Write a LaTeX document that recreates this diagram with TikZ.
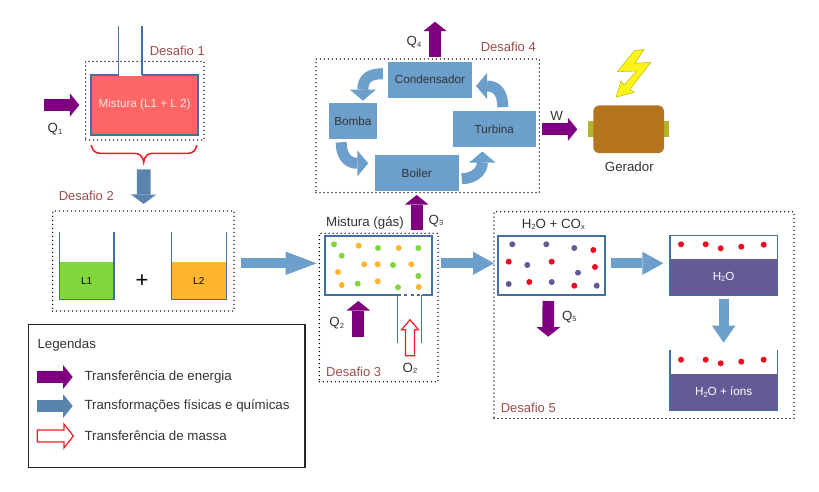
\documentclass[tikz,border=0pt]{standalone}
\usepackage{fontspec}
\setmainfont{Liberation Sans}
\usetikzlibrary{arrows.meta,shapes.arrows}

\definecolor{roxo}{HTML}{7F007F}
\definecolor{azulseta}{HTML}{5A84AE}
\definecolor{azulclaro}{HTML}{6C9FCC}
\definecolor{azulborda}{HTML}{41709F}
\definecolor{verdeliq}{HTML}{80D63B}
\definecolor{laranjaliq}{HTML}{FFB62E}
\definecolor{vermelhomix}{HTML}{FF6666}
\definecolor{vermelhoion}{HTML}{EE0A24}
\definecolor{vermelhoseta}{HTML}{F01C24}
\definecolor{roxoagua}{HTML}{665A96}
\definecolor{desafio}{HTML}{A04C4C}
\definecolor{textocinza}{HTML}{333333}
\definecolor{marrom}{HTML}{B5751F}
\definecolor{oliva}{HTML}{B5B32A}

\newcommand{\idx}[1]{\raisebox{-.25ex}{\fontsize{7.5}{7.5}\selectfont #1}}

\tikzset{
  rotulo/.style={font=\fontsize{13.3}{15}\selectfont, text=textocinza, inner sep=0pt},
  titulo/.style={font=\fontsize{13}{15}\selectfont, text=desafio, inner sep=0pt},
  dotbox/.style={draw=black, line width=1.5pt, line cap=round, dash pattern=on 0pt off 4pt, outer sep=0pt, inner sep=0pt},
  bloco/.style={fill=azulclaro, outer sep=0pt, inner sep=0pt, text=black!80, font=\fontsize{11.7}{13}\selectfont},
  caixa/.style={draw=azulborda, line width=1.8pt, fill=white, outer sep=0pt, inner sep=0pt},
  liquido/.style={outer sep=0pt, inner sep=0pt, font=\fontsize{10}{12}\selectfont},
  parede/.style={draw=azulborda, line width=1.4pt},
  energia/.style={draw=roxo, line width=11.7pt, -{Triangle[length=9.5pt,width=23.5pt,line width=0pt]}},
  fisica/.style={draw=azulseta, line width=11.7pt, -{Triangle[length=9.5pt,width=23.5pt,line width=0pt]}},
  fluxo/.style={draw=azulclaro, line width=10pt, -{Triangle[length=#1,width=23.3pt,line width=0pt]}},
  giro/.style={draw=azulclaro, line width=11pt, -{Triangle[length=11pt,width=26pt,line width=0pt]}},
  massa/.style={single arrow, anchor=tail, draw=vermelhoseta, line width=1.2pt, fill=white, inner sep=3.9pt,
    minimum height=36pt, single arrow head extend=4pt, single arrow tip angle=80, outer sep=0pt},
  massaleg/.style={massa, inner sep=5.4pt, single arrow head extend=6pt, single arrow tip angle=104},
}

\begin{document}
\begin{tikzpicture}[x=1pt,y=-1pt]
  \useasboundingbox (0,0) rectangle (819,492);

  % Desafio 1
  \node[dotbox, minimum width=118.3pt, minimum height=78.7pt] (desafioa) at (144.85,100.65) {};
  \node[caixa, draw=azulborda, fill=vermelhomix, minimum width=106.7pt, minimum height=59.7pt,
        text=white!90!red, font=\fontsize{11.7}{13}\selectfont] (flask) at (144.65,104.85) {Mistura (L1 + L 2)};
  \draw[white, line width=2pt] ([xshift=-26pt]flask.north) -- ([xshift=-2.6pt]flask.north);
  \draw[parede] ([xshift=-26pt,yshift=49pt]flask.north) -- ([xshift=-26pt]flask.north);
  \draw[parede] ([xshift=-2.6pt,yshift=49pt]flask.north) -- ([xshift=-2.6pt]flask.north);
  \node[titulo] (tituloa) at (177.3,50.7) {Desafio 1};
  \coordinate (qa) at (44,105);
  \draw[energia] (qa) -- ([xshift=-6.4pt,yshift=-4.35pt]desafioa.west);
  \node[rotulo] (qatxt) at (55,129.3) {Q\idx{1}};
  \coordinate (chave) at (143.7,162.3);
  \draw[vermelhoseta, line width=1.5pt] (91.3,145) .. controls (92,150) and (95,153.3) .. (100,153.3)
    -- (133.3,153.3) .. controls (139,153.3) and (142.5,155) .. (chave)
    .. controls (145,155) and (148,153.3) .. (153.3,153.3)
    -- (188.3,153.3) .. controls (193,153.3) and (196,150) .. (196.7,145);

  % Desafio 2
  \node[dotbox, minimum width=181.3pt, minimum height=100pt] (desafiob) at (143.35,261) {};
  \node[titulo] (titulob) at (86.3,196.3) {Desafio 2};
  \draw[fisica, line width=13.7pt, -{Triangle[length=9.5pt,width=25.3pt,line width=0pt]}]
    ([yshift=-7pt]chave) -- ([yshift=7pt,xshift=.3pt]desafiob.north);
  \node[liquido, fill=verdeliq, minimum width=54.7pt, minimum height=37.3pt] (liqa) at (86.65,280.65) {L1};
  \node[liquido, fill=laranjaliq, minimum width=55pt, minimum height=37.3pt] (liqb) at (198.8,280.65) {L2};
  \draw[parede] ([yshift=30.3pt]liqa.north west) -- (liqa.south west) -- (liqa.south east) -- ([yshift=30.3pt]liqa.north east);
  \draw[parede] ([yshift=30.3pt]liqb.north west) -- (liqb.south west) -- (liqb.south east) -- ([yshift=30.3pt]liqb.north east);
  \node[font=\fontsize{22}{22}\selectfont, inner sep=0pt] (mais) at (142,281) {+};

  % Desafio 3
  \node[dotbox, minimum width=118.7pt, minimum height=148.4pt] (desafioc) at (378.65,307.5) {};
  \node[caixa, minimum width=107pt, minimum height=59.6pt] (gasbox) at (378.8,265.5) {};
  \foreach \dotx/\doty in {334/244.3,341.7/255.7,378/248,418.3/248,393/265,418.3/276,357.7/283.7,398/287.3}
    \fill[verdeliq] (\dotx,\doty) circle (3);
  \foreach \dotx/\doty in {358.7/245.7,398.7/248,364.3/264.3,377.7/264.3,411.3/264.3,338/272,377.7/281.3,341.7/285,418.7/287}
    \fill[laranjaliq] (\dotx,\doty) circle (3);
  \draw[white, line width=2pt] ([xshift=19pt]gasbox.south) -- ([xshift=43pt]gasbox.south);
  \draw[azulborda, line width=1.8pt, dash pattern=on 3pt off 3.4pt] ([xshift=19pt]gasbox.south) -- ([xshift=43pt]gasbox.south);
  \draw[parede, line width=1.1pt] ([xshift=19pt]gasbox.south) -- ([xshift=19pt,yshift=-48pt]gasbox.south);
  \draw[parede, line width=1.1pt] ([xshift=43pt]gasbox.south) -- ([xshift=43pt,yshift=-48pt]gasbox.south);
  \node[rotulo] (gastxt) at (365,223.3) {Mistura (gás)};
  \coordinate (qb) at (358.3,337.3);
  \draw[energia] (qb) -- ([xshift=-20.5pt,yshift=-5.7pt]gasbox.south);
  \node[rotulo] (qbtxt) at (336.7,323.3) {Q\idx{2}};
  \node[massa, shape border rotate=90] (oseta) at (410,355.7) {};
  \node[rotulo] (otxt) at (410,368.3) {O\idx{2}};
  \node[titulo] (tituloc) at (353.7,372.3) {Desafio 3};

  % Desafio 4
  \node[dotbox, minimum width=223.3pt, minimum height=133.7pt] (desafiod) at (427.65,125.85) {};
  \node[bloco, minimum width=83.4pt, minimum height=36pt] (condensador) at (430,79.7) {Condensador};
  \node[bloco, minimum width=48.3pt, minimum height=35.7pt] (bomba) at (352.85,120.85) {Bomba};
  \node[bloco, minimum width=83.3pt, minimum height=35.6pt] (turbina) at (494.35,129.3) {Turbina};
  \node[bloco, minimum width=84pt, minimum height=35.4pt] (boiler) at (416.7,173) {Boiler};
  \draw[giro] ([xshift=-5.3pt,yshift=6pt]condensador.west) .. controls (370,73.7) and (362.85,78) .. ([xshift=10pt,yshift=13.3pt]bomba.north) -- ([xshift=10pt,yshift=2.3pt]bomba.north);
  \draw[giro] ([xshift=8.45pt,yshift=4.4pt]turbina.north) .. controls (502.8,93) and (497,86) .. ([xshift=15.3pt,yshift=-6.3pt]condensador.east) -- ([xshift=4.3pt,yshift=-6.3pt]condensador.east);
  \draw[giro] ([xshift=-11.65pt,yshift=-3.6pt]bomba.south) .. controls (341.2,155) and (347,163.3) .. ([xshift=-17.4pt,yshift=9.7pt]boiler.west) -- ([xshift=-6.4pt,yshift=9.7pt]boiler.west);
  \draw[giro] ([xshift=3pt,yshift=-5.7pt]boiler.east) .. controls (473,178.7) and (482.35,172) .. ([xshift=-12pt,yshift=-15.4pt]turbina.south) -- ([xshift=-12pt,yshift=-4.4pt]turbina.south);
  \node[titulo] (titulod) at (508.3,47.3) {Desafio 4};
  \coordinate (qd) at (435,21.7);
  \draw[energia] ([xshift=5pt,yshift=4.4pt]condensador.north) -- (qd);
  \node[rotulo] (qdtxt) at (414,42.3) {Q\idx{4}};
  \draw[energia] ([xshift=37.9pt,yshift=5.7pt]gasbox.north) -- ([yshift=-4.3pt]boiler.south);
  \node[rotulo] (qctxt) at (436,220.7) {Q\idx{3}};

  % Gerador
  \fill[oliva] (588.3,121.5) rectangle (669,137.5);
  \node[fill=marrom, rounded corners=6pt, minimum width=70.7pt, minimum height=47.7pt, outer sep=0pt, inner sep=0pt] (gerador) at (628.65,129.3) {};
  \node[rotulo] (geradortxt) at (629.3,166.7) {Gerador};
  \draw[energia] ([xshift=5.7pt]turbina.east) -- ([xshift=-16pt]gerador.west);
  \node[rotulo] (wtxt) at (556.7,115.7) {W};
  \draw[oliva!80!yellow, line width=.6pt, fill=yellow!90!white] (634.3,50.7) -- (644,49.3) -- (635,63.3) -- (651,62.3)
    -- (630,89.3) -- (634.3,92.3) -- (616,97.3) -- (621,80.7) -- (624,85) -- (636.7,71) -- (617.3,71.7) -- cycle;

  % Desafio 5
  \node[dotbox, minimum width=300pt, minimum height=206.6pt] (desafioe) at (644,315) {};
  \node[caixa, minimum width=106.7pt, minimum height=59.6pt] (coxbox) at (551.35,265.5) {};
  \foreach \dotx/\doty in {512.3/244.3,546.3/244.3,574.3/248,527.3/265,578/272.7,508.7/284,551.7/282,596.7/285.7}
    \fill[roxoagua] (\dotx,\doty) circle (3);
  \foreach \dotx/\doty in {593.3/250,508.7/261.7,551.7/261.7,595/267,529.3/282,574.3/285.7}
    \fill[vermelhoion] (\dotx,\doty) circle (3);
  \node[rotulo] (coxtxt) at (553.3,224.3) {H\idx{2}O + CO\idx{x}};
  \coordinate (qe) at (548.3,336.7);
  \draw[energia] ([xshift=-3pt,yshift=-5.7pt]coxbox.south) -- (qe);
  \node[rotulo] (qetxt) at (569.3,316.7) {Q\idx{5}};
  \node[liquido, fill=roxoagua, text=white, font=\fontsize{11.7}{13}\selectfont, minimum width=107.3pt, minimum height=36.6pt] (agua) at (723.65,277) {H\idx{2}O};
  \node[liquido, fill=roxoagua, text=white, font=\fontsize{11.7}{13}\selectfont, minimum width=107.3pt, minimum height=36.7pt] (aguaions) at (723.65,392.35) {H\idx{2}O + íons};
  \draw[parede] (agua.south west) rectangle ([yshift=23pt]agua.north east);
  \draw[parede] ([yshift=24pt]aguaions.north west) -- (aguaions.south west) -- (aguaions.south east) -- ([yshift=24pt]aguaions.north east);
  \foreach \dotx/\doty in {681/244.3,705.7/244.3,720.7/248.3,741.3/246.7,763.7/244.7,681/359.7,705.7/359.7,720.7/363.3,741.3/361.7,763.7/359.7}
    \fill[vermelhoion] (\dotx,\doty) circle (3);
  \node[titulo] (tituloe) at (528.3,408.3) {Desafio 5};

  % setas entre os desafios
  \draw[fluxo=31pt] ([xshift=6.7pt,yshift=-2.3pt]desafiob.east) -- ([xshift=-8.6pt,yshift=2.2pt]gasbox.west);
  \draw[fluxo=21pt] ([xshift=9pt,yshift=2.2pt]gasbox.east) -- ([xshift=-4pt,yshift=2.2pt]coxbox.west);
  \draw[fluxo=21pt] ([xshift=6pt,yshift=2.2pt]coxbox.east) -- ([xshift=-6.7pt,yshift=13.7pt]agua.west);
  \draw[fluxo=17pt] ([yshift=-4pt]agua.south) -- ([yshift=31.3pt]aguaions.north);

  % Legendas
  \node[draw=black!85, line width=1.3pt, minimum width=276.7pt, minimum height=143pt, outer sep=0pt, inner sep=0pt] (legenda) at (166.65,395.8) {};
  \node[rotulo, anchor=west] (legtitulo) at (37.3,345) {Legendas};
  \node[rotulo, anchor=west] (legenergia) at (84.3,377) {Transferência de energia};
  \node[rotulo, anchor=west] (legfisica) at (84.3,406) {Transformações físicas e químicas};
  \node[rotulo, anchor=west] (legmassa) at (84.3,436) {Transferência de massa};
  \coordinate (lega) at (37.3,377);
  \coordinate (legb) at (37.3,406);
  \draw[energia] (lega) -- ([xshift=-11.6pt]legenergia.west);
  \draw[fisica] (legb) -- ([xshift=-11.6pt]legfisica.west);
  \node[massaleg, shape border rotate=0] (legseta) at (37.3,436) {};
\end{tikzpicture}
\end{document}
